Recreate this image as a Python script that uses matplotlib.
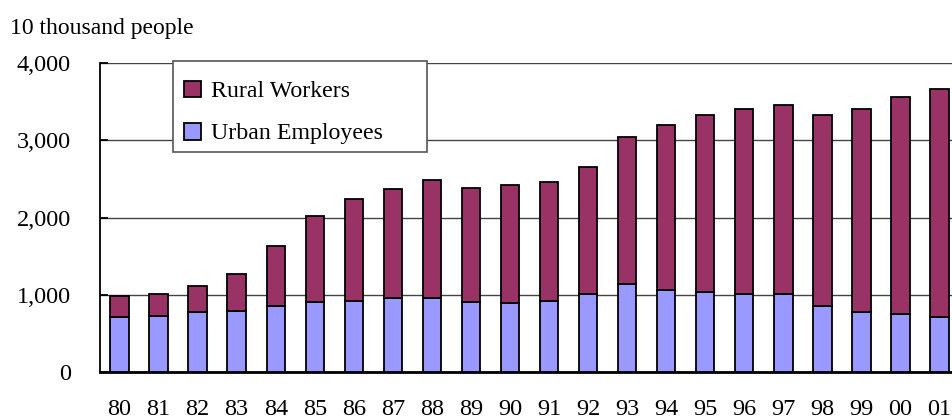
import numpy as np
import matplotlib
matplotlib.use("Agg")
from matplotlib import pyplot as plt
from matplotlib.patches import Rectangle

# data (10 thousand people)
years = ["80", "81", "82", "83", "84", "85", "86", "87", "88", "89", "90",
         "91", "92", "93", "94", "95", "96", "97", "98", "99", "00", "01"]
urban = [720, 722, 776, 797, 858, 906, 926, 957, 957, 906, 900,
         926, 1013, 1138, 1061, 1035, 1013, 1013, 858, 776, 754, 719]
total = [983, 1013, 1120, 1272, 1638, 2026, 2238, 2367, 2492, 2388, 2419,
         2466, 2652, 3044, 3195, 3324, 3406, 3458, 3324, 3406, 3562, 3665]
rural = [t - u for t, u in zip(total, urban)]

plt.rcParams['font.family'] = ['Liberation Serif', 'DejaVu Serif']

W, H = 952, 418
fig = plt.figure(figsize=(W/100, H/100), dpi=100)
ax = fig.add_axes([100/W, 0.1093, 0.9024, 0.7400])

x = np.arange(len(years))
b1 = ax.bar(x, urban, width=0.47, color='#9999FF', edgecolor='black', linewidth=1.3, zorder=3)
b2 = ax.bar(x, rural, width=0.47, bottom=urban, color='#993366', edgecolor='black', linewidth=1.3, zorder=3)

ax.set_xlim(-0.5, 21.5)
ax.set_ylim(0, 4000)
ax.set_yticks([0, 1000, 2000, 3000, 4000])
ax.set_yticklabels(['0', '1,000', '2,000', '3,000', '4,000'])
ax.set_xticks(x)
ax.set_xticklabels(years)

ax.yaxis.grid(True, color='#444444', linewidth=1.0, zorder=0)
ax.set_axisbelow(True)
for s in ['top', 'right']:
    ax.spines[s].set_visible(False)
ax.spines['left'].set_linewidth(1.3)
ax.spines['bottom'].set_linewidth(2.0)

ax.tick_params(axis='y', direction='in', length=6, width=1.3, pad=21, labelsize=17.5)
ax.tick_params(axis='x', length=0, pad=19, labelsize=17.5)

fig.text(10/W, 1 - 34/H, '10 thousand people', fontsize=17, ha='left', va='baseline')

# legend box (wider than the entries, as in the original)
box = Rectangle((173/W, 1 - 152/H), (427 - 173)/W, (152 - 61)/H,
                transform=fig.transFigure, facecolor='white', edgecolor='#555555',
                linewidth=1.2, clip_on=False, zorder=4)
ax.add_patch(box)

leg = ax.legend([b2, b1], ['Rural Workers', 'Urban Employees'],
                loc='upper left', bbox_to_anchor=(173/W, 1 - 70/H),
                bbox_transform=fig.transFigure, borderaxespad=0, frameon=False,
                fontsize=17.2, handlelength=0.72, handleheight=0.7,
                handletextpad=0.42, labelspacing=0.85, borderpad=0.45)
leg.set_zorder(5)

fig.savefig('out.png', dpi=100)
